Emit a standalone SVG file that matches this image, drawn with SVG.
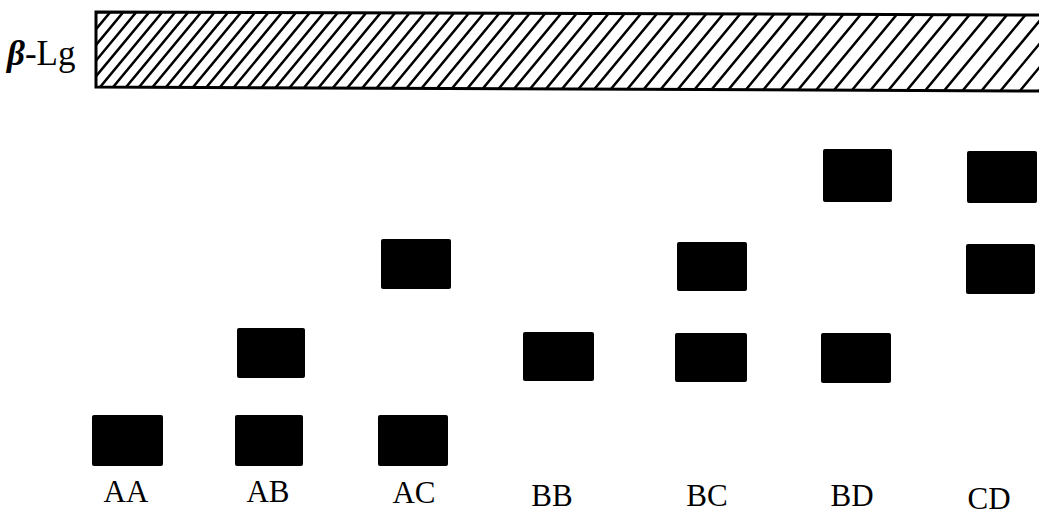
<svg xmlns="http://www.w3.org/2000/svg" width="1039" height="516" viewBox="0 0 1039 516">
<style>
.blk{fill:#000}
.lbl{font-family:"Liberation Serif","Times New Roman",serif;font-size:31px;fill:#000;text-anchor:middle}
.hatch{stroke:#000;stroke-width:2.5;fill:none}
</style>
<defs>
<clipPath id="barclip"><polygon points="96,12 1041,15 1041,91 96,87"/></clipPath>
</defs>
<rect width="1039" height="516" fill="#fff"/>
<g id="beta-lg">
<text x="7" y="65" style="font-family:'Liberation Serif',serif;font-size:35px;fill:#000"><tspan font-style="italic" font-weight="bold">β</tspan>-Lg</text>
<g clip-path="url(#barclip)">
<path class="hatch" d="M31 92l68 -82M44 92l68 -82M57 92l68 -82M70 92l68 -82M83 92l68 -82M96 92l68 -82M109 92l68 -82M122 92l68 -82M135 92l68 -82M148.5 92l68 -82M162 92l68 -82M175 92l68 -82M189 92l68 -82M202.5 92l68 -82M216 92l68 -82M230 92l68 -82M244 92l68 -82M258 92l68 -82M272 92l68 -82M286 92l68 -82M300.5 92l68 -82M315 92l68 -82M329.5 92l68 -82M344 92l68 -82M359 92l68 -82M373.5 92l68 -82M388.5 92l68 -82M403.5 92l68 -82M418.5 92l68 -82M434 92l68 -82M449 92l68 -82M464.5 92l68 -82M480 92l68 -82M496 92l68 -82M511.5 92l68 -82M527.5 92l68 -82M543.5 92l68 -82M559.5 92l68 -82M576 92l68 -82M592 92l68 -82M608.5 92l68 -82M625 92l68 -82M641.5 92l68 -82M658.5 92l68 -82M675.5 92l68 -82M692.5 92l68 -82M709.5 92l68 -82M726.5 92l68 -82M744 92l68 -82M761.5 92l68 -82M779 92l68 -82M796.5 92l68 -82M814.5 92l68 -82M832.5 92l68 -82M850.5 92l68 -82M869 92l68 -82M887 92l68 -82M905.5 92l68 -82M924 92l68 -82M943 92l68 -82M961.5 92l68 -82M980.5 92l68 -82M999.5 92l68 -82M1019 92l68 -82M1038 92l68 -82"/>
</g>
<polygon points="96,12 1041,15 1041,91 96,87" fill="none" stroke="#000" stroke-width="3"/>
</g>
<g id="lane-AA">
<rect class="blk" x="92" y="415" width="71" height="51" rx="2"/>
<text class="lbl" x="126" y="502">AA</text>
</g>
<g id="lane-AB">
<rect class="blk" x="237" y="328" width="68" height="50" rx="2"/>
<rect class="blk" x="235" y="415" width="68" height="51" rx="2"/>
<text class="lbl" x="268" y="502">AB</text>
</g>
<g id="lane-AC">
<rect class="blk" x="381" y="239" width="70" height="50" rx="2"/>
<rect class="blk" x="378" y="415" width="70" height="51" rx="2"/>
<text class="lbl" x="414" y="503">AC</text>
</g>
<g id="lane-BB">
<rect class="blk" x="523" y="332" width="71" height="49" rx="2"/>
<text class="lbl" x="552" y="506">BB</text>
</g>
<g id="lane-BC">
<rect class="blk" x="677" y="242" width="70" height="49" rx="2"/>
<rect class="blk" x="675" y="333" width="72" height="49" rx="2"/>
<text class="lbl" x="707" y="506">BC</text>
</g>
<g id="lane-BD">
<rect class="blk" x="823" y="149" width="69" height="53" rx="2"/>
<rect class="blk" x="821" y="333" width="70" height="50" rx="2"/>
<text class="lbl" x="852" y="506">BD</text>
</g>
<g id="lane-CD">
<rect class="blk" x="967" y="151" width="70" height="52" rx="2"/>
<rect class="blk" x="966" y="244" width="69" height="50" rx="2"/>
<text class="lbl" x="989" y="509">CD</text>
</g>
<g id="connectors"/>
</svg>
